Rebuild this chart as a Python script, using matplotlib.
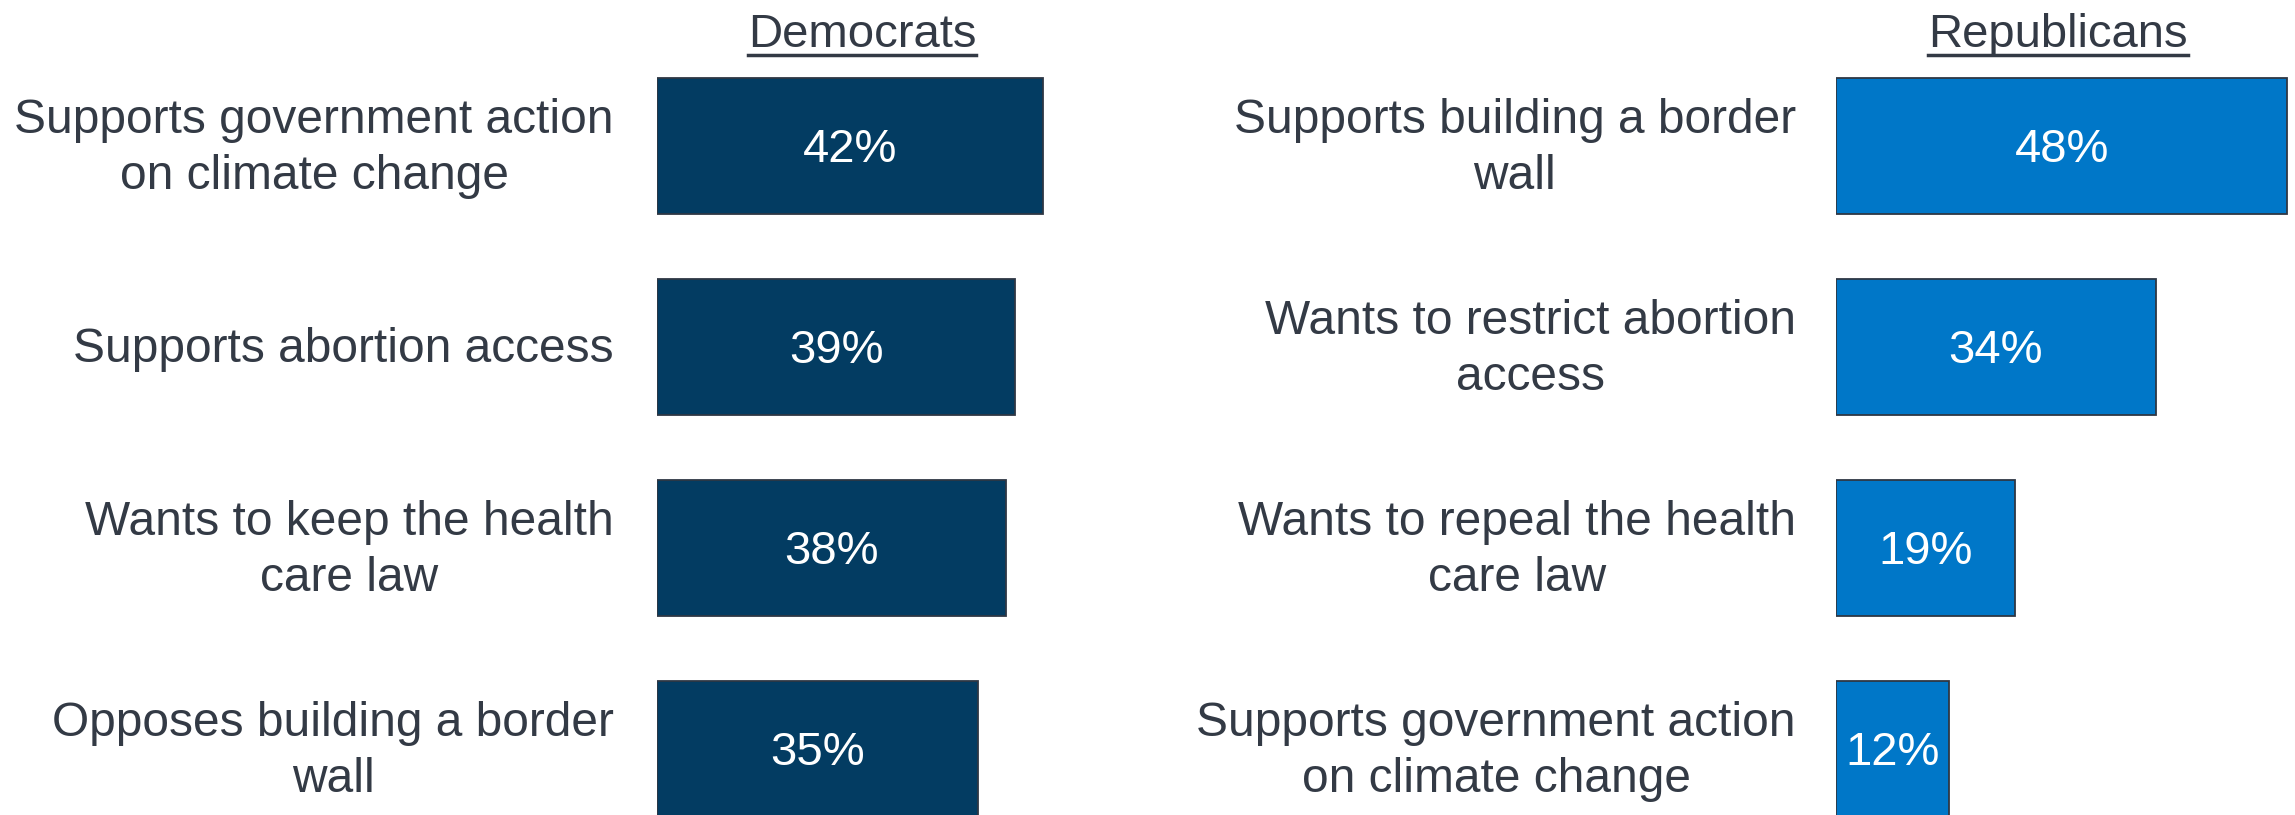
import matplotlib
matplotlib.use("Agg")
import matplotlib.pyplot as plt
from matplotlib.lines import Line2D

# data
dem_labels = ["Supports government action\non climate change",
              "Supports abortion access",
              "Wants to keep the health\ncare law",
              "Opposes building a border\nwall"]
dem_values = [42, 39, 38, 35]
rep_labels = ["Supports building a border\nwall",
              "Wants to restrict abortion\naccess",
              "Wants to repeal the health\ncare law",
              "Supports government action\non climate change"]
rep_values = [48, 34, 19, 12]

W, H = 2295, 815
TXT = "#333a45"
plt.rcParams['font.family'] = ['Liberation Sans', 'DejaVu Sans']

fig = plt.figure(figsize=(W / 100, H / 100), dpi=100)


def panel(left_px, scale, values, labels, color, label_right_px):
    width_px = W - left_px if left_px > 1500 else 1150 - left_px
    ax = fig.add_axes([left_px / W, 0, width_px / W, 1])
    ax.set_xlim(0, width_px / scale)
    # bar centres at 145.5 + 201*i px from top
    ax.set_ylim((H - 145.5) / 201, -145.5 / 201)
    ys = list(range(len(values)))
    ax.barh(ys, values, height=136 / 201, color=color,
            edgecolor="#2e3744", linewidth=1.3)
    for y, v in zip(ys, values):
        # nudge down a few px so the digits sit on the bar centre
        ax.text(v / 2, y + 0.02, "%d%%" % v, color="white", fontsize=34,
                ha="center", va="center")
    for y, lab in zip(ys, labels):
        x_data = (label_right_px - left_px) / scale
        ax.text(x_data, y + 0.015, lab, color=TXT, fontsize=34.5, ha="right",
                va="center", multialignment="center", linespacing=1.3,
                clip_on=False)
    ax.axis("off")
    return ax


panel(657, 9.18, dem_values, dem_labels, "#033c62", 614)
panel(1836, 9.4, rep_values, rep_labels, "#0077c8", 1796)


def title(xc_px, s):
    t = fig.text(xc_px / W, 1 - 35 / H, s, color=TXT, fontsize=34,
                 ha="center", va="center")
    fig.canvas.draw()
    bb = t.get_window_extent()
    y = 1 - 55 / H
    fig.add_artist(Line2D([bb.x0 / W, bb.x1 / W], [y, y], color=TXT,
                          linewidth=2.5))


title(862, "Democrats")
title(2058, "Republicans")

fig.savefig("out.png", dpi=100)
